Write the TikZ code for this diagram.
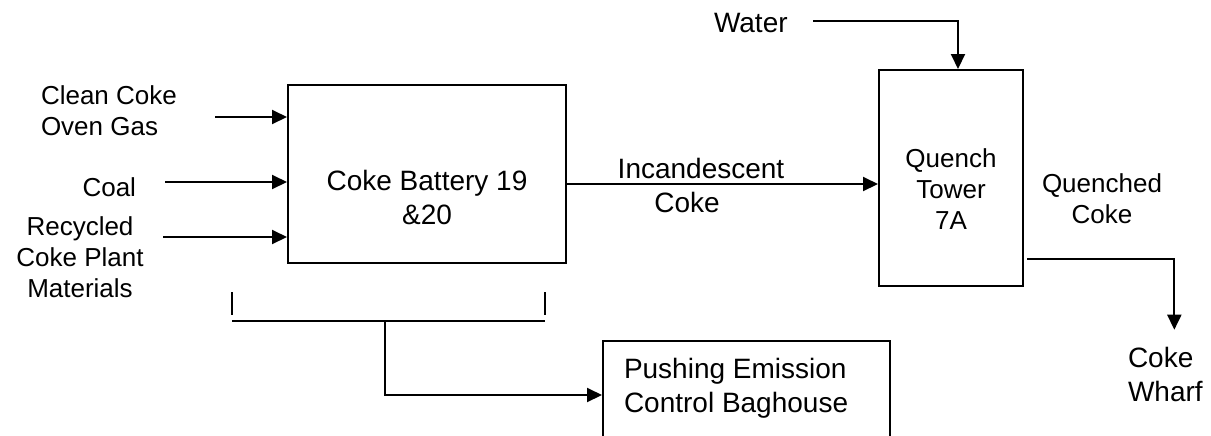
\documentclass[tikz,border=0pt]{standalone}
\usepackage{fontspec}
\setmainfont{Liberation Sans}
\usetikzlibrary{arrows.meta, positioning, calc}

\begin{document}
\begin{tikzpicture}[x=0.5pt, y=-0.5pt, >={Triangle[length=7.5pt, width=7pt]},
    line width=1pt,
    unit/.style={draw, line width=1pt, inner sep=0pt, anchor=north west},
    biglbl/.style={font=\fontsize{14}{17}\selectfont, inner sep=0pt, align=center},
    smalllbl/.style={font=\fontsize{13}{15.5}\selectfont, inner sep=0pt, align=center}]
  % page frame, the baghouse runs off the bottom edge
  \useasboundingbox (0,0) rectangle (1211,435);
  \clip (0,0) rectangle (1211,435);

  % Process units
  \node[unit, minimum width=139pt, minimum height=89pt] (bat) at (287,84) {};
  \node[unit, minimum width=72pt, minimum height=108pt] (qt) at (878,69) {};
  \node[unit, minimum width=143.5pt, minimum height=54pt] (bag) at (602,340) {};
  \node[biglbl] (battxt) at ($(bat.center)+(0,23)$) {Coke Battery 19\\\&20};
  \node[smalllbl] (qttxt) at ($(qt.center)+(0,11)$) {Quench\\Tower\\7A};
  \node[biglbl, align=left, anchor=west] (bagtxt) at (623,388)
    {Pushing Emission\\Control Baghouse};

  % Stream labels
  \node[smalllbl, align=left, anchor=west] (gas) at (40,111) {Clean Coke\\Oven Gas};
  \node[smalllbl, anchor=east] (coal) at (137,187) {Coal};
  \node[smalllbl] (recyc) at (80,257) {Recycled\\Coke Plant\\Materials};
  \node[biglbl] (hot) at (701,185) {Incandescent\\Coke\hspace*{14pt}};
  \node[biglbl, anchor=west] (water) at (713,23) {Water};
  \node[smalllbl] (quenched) at (1102,199) {Quenched\\Coke};
  \node[biglbl, align=left, anchor=west] (wharf) at (1127,374) {Coke\\Wharf};

  % Free ends of the feed lines
  \coordinate (gasin) at (215,117);
  \coordinate (coalin) at (165,182);
  \coordinate (recycin) at (163,237);
  \coordinate (waterin) at (813,21);
  \coordinate (qout) at (1027,259);

  \foreach \c in {gasin, coalin, recycin}
    \draw[->] (\c) -- (\c -| bat.west);
  \draw[->] ([yshift=-5pt]bat.east) -- ([yshift=-5pt]bat.east -| qt.west);
  \draw[->] (waterin) -| ([xshift=3.5pt]qt.north);
  \draw[->] (qout) -| ([xshift=4.5pt, yshift=8pt]wharf.north);

  % Pusher side collection
  \draw (232,292) -- (232,315);
  \draw (545,292) -- (545,315);
  \draw (232,321) -- (545,321);
  \coordinate (pushout) at (385,321);
  \draw[->] (pushout) |- (bag.west);
\end{tikzpicture}
\end{document}
